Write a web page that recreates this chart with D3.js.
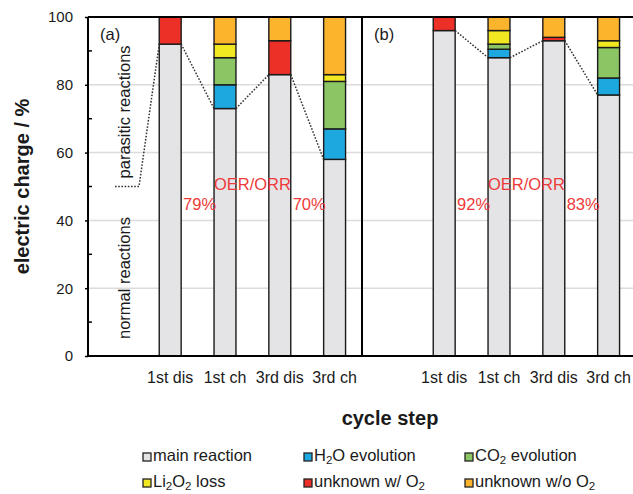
<!DOCTYPE html>
<html><head><meta charset="utf-8">
<script src="https://cdn.jsdelivr.net/npm/d3@7"></script>
<style>
html,body{margin:0;padding:0;background:#fff;}
svg{display:block;font-family:"Liberation Sans",Arial,sans-serif;}
</style></head>
<body>
<svg id="chart" width="633" height="494"></svg>
<script>
// ---------- data ----------
const steps = ["1st dis", "1st ch", "3rd dis", "3rd ch"];
const categories = ["", ...steps];
const seriesKeys = ["main", "h2o", "co2", "li2o2", "unkO2", "unkNoO2"];
const seriesLabels = ["main reaction", "H_2O evolution", "CO_2 evolution", "Li_2O_2 loss", "unknown w/ O_2", "unknown w/o O_2"];
const seriesColors = ["#e4e4e7", "#1ea8e0", "#8cc563", "#f1e822", "#ec2f27", "#fbb42b"];

// panel (a)
const mainA    = [92, 73, 83, 58];
const h2oA     = [0, 7, 0, 9];
const co2A     = [0, 8, 0, 14];
const li2o2A   = [0, 4, 0, 2];
const unkO2A   = [8, 0, 10, 0];
const unkNoO2A = [0, 8, 7, 17];
// panel (b)
const mainB    = [96, 88, 93, 77];
const h2oB     = [0, 2.5, 0, 5];
const co2B     = [0, 1.5, 0, 9];
const li2o2B   = [0, 4, 0, 2];
const unkO2B   = [4, 0, 1, 0];
const unkNoO2B = [0, 4, 6, 7];

const effA = ["79%", "70%"];
const effB = ["92%", "83%"];
const panelLabels = ["(a)", "(b)"];
const yTicks = [0, 20, 40, 60, 80, 100];
const yMinor = [10, 30, 50, 70, 90];
const dividerValue = 50;

// ---------- layout ----------
const svg = d3.select("#chart");
const yTop = 17, yBottom = 356;
const panelW = 274;
const panelX = [88, 362];
const y = d3.scaleLinear().domain([0, 100]).range([yBottom, yTop]);
const x = d3.scaleBand().domain(categories).range([0, panelW]).paddingInner(0.6).paddingOuter(0.3);

function rows(main, h2o, co2, li, uo, un) {
  return steps.map((s, i) => ({step: s, main: main[i], h2o: h2o[i], co2: co2[i], li2o2: li[i], unkO2: uo[i], unkNoO2: un[i]}));
}
const panels = [
  {rows: rows(mainA, h2oA, co2A, li2o2A, unkO2A, unkNoO2A), eff: effA},
  {rows: rows(mainB, h2oB, co2B, li2o2B, unkO2B, unkNoO2B), eff: effB}
];
const stack = d3.stack().keys(seriesKeys);
const color = d3.scaleOrdinal().domain(seriesKeys).range(seriesColors);
const red = "#ee3a3a";

panels.forEach((p, pi) => {
  const g = svg.append("g").attr("transform", `translate(${panelX[pi]},0)`);
  // gridlines
  g.selectAll("line.grid").data(yTicks.filter(t => t > 0 && t < 100)).enter().append("line")
    .attr("x1", 0).attr("x2", panelW).attr("y1", d => y(d)).attr("y2", d => y(d))
    .attr("stroke", "#dcdcdc").attr("stroke-width", 1.5);
  // bars
  const layers = stack(p.rows);
  g.selectAll("g.layer").data(layers).enter().append("g")
    .attr("fill", d => color(d.key))
    .selectAll("rect").data(d => d.filter(s => s[1] - s[0] > 0)).enter().append("rect")
    .attr("x", d => x(d.data.step)).attr("width", x.bandwidth())
    .attr("y", d => y(d[1])).attr("height", d => y(d[0]) - y(d[1]))
    .attr("stroke", "#1a1a1a").attr("stroke-width", 1.4);
  // dotted connectors
  const conn = [];
  for (let i = 0; i < p.rows.length - 1; i++) {
    conn.push([[x(p.rows[i].step) + x.bandwidth(), y(p.rows[i].main)], [x(p.rows[i + 1].step), y(p.rows[i + 1].main)]]);
  }
  if (pi === 0) {
    conn.push([[27, y(dividerValue)], [51, y(dividerValue)], [x(p.rows[0].step), y(p.rows[0].main)]]);
  }
  g.selectAll("path.conn").data(conn).enter().append("path")
    .attr("d", d3.line()).attr("fill", "none")
    .attr("stroke", "#333").attr("stroke-width", 1.5).attr("stroke-dasharray", "1.6,1.6");
  // efficiency labels
  const mid = (a, b) => (x(a) + x(b) + x.bandwidth()) / 2;
  g.append("text").attr("x", mid(steps[1], steps[2])).attr("y", y(49)).attr("text-anchor", "middle")
    .attr("fill", red).attr("font-size", 16.5).text("OER/ORR");
  g.append("text").attr("x", mid(steps[0], steps[1]) + 2).attr("y", y(43)).attr("text-anchor", "middle")
    .attr("fill", red).attr("font-size", 16.5).text(p.eff[0]);
  g.append("text").attr("x", mid(steps[2], steps[3]) + 2).attr("y", y(43)).attr("text-anchor", "middle")
    .attr("fill", red).attr("font-size", 16.5).text(p.eff[1]);
  // x tick labels
  g.selectAll("text.xt").data(steps).enter().append("text")
    .attr("x", d => x(d) + x.bandwidth() / 2).attr("y", 383).attr("text-anchor", "middle")
    .attr("font-size", 16).attr("fill", "#1a1a1a").text(d => d);
  // panel label
  g.append("text").attr("x", 12).attr("y", 40).attr("font-size", 16.5).attr("fill", "#1a1a1a").text(panelLabels[pi]);
  // borders
  g.append("line").attr("x1", 0).attr("x2", 0).attr("y1", yTop).attr("y2", yBottom).attr("stroke", "#000").attr("stroke-width", 2);
  g.append("line").attr("x1", panelW).attr("x2", panelW).attr("y1", yTop).attr("y2", yBottom).attr("stroke", "#000").attr("stroke-width", 2);
});

// frame lines
svg.append("line").attr("x1", panelX[0]).attr("x2", panelX[1] + panelW).attr("y1", yTop).attr("y2", yTop).attr("stroke", "#000").attr("stroke-width", 2);
svg.append("line").attr("x1", panelX[0]).attr("x2", panelX[1] + panelW).attr("y1", yBottom).attr("y2", yBottom).attr("stroke", "#000").attr("stroke-width", 2);

// y axis
const yAxis = d3.axisLeft(y).tickValues(yTicks).tickSize(3).tickPadding(12);
const ag = svg.append("g").attr("transform", `translate(${panelX[0]},0)`).call(yAxis);
ag.select(".domain").remove();
ag.selectAll("text").attr("font-size", 15).attr("fill", "#1a1a1a").attr("font-family", "Liberation Sans, Arial, sans-serif");
ag.selectAll("line").attr("stroke", "#000").attr("stroke-width", 1.5);
svg.append("g").selectAll("line").data(yMinor).enter().append("line")
  .attr("x1", panelX[0]).attr("x2", panelX[0] + 4).attr("y1", d => y(d)).attr("y2", d => y(d))
  .attr("stroke", "#000").attr("stroke-width", 1.5);

// rotated annotations
svg.append("text").attr("transform", `translate(130,${y(72)}) rotate(-90)`).attr("text-anchor", "middle")
  .attr("font-size", 16.5).attr("fill", "#1a1a1a").text("parasitic reactions");
svg.append("text").attr("transform", `translate(130,${y(23)}) rotate(-90)`).attr("text-anchor", "middle")
  .attr("font-size", 16.5).attr("fill", "#1a1a1a").text("normal reactions");

// axis titles
svg.append("text").attr("transform", `translate(29,${(yTop + yBottom) / 2}) rotate(-90)`).attr("text-anchor", "middle")
  .attr("font-size", 20).attr("font-weight", "bold").attr("fill", "#1a1a1a").text("electric charge / %");
svg.append("text").attr("x", 390).attr("y", 425).attr("text-anchor", "middle")
  .attr("font-size", 20).attr("font-weight", "bold").attr("fill", "#1a1a1a").text("cycle step");

// legend
const legX = [143, 304, 465], legY = [457, 483];
seriesKeys.forEach((k, i) => {
  const lx = legX[i % 3], ly = legY[Math.floor(i / 3)];
  svg.append("rect").attr("x", lx).attr("y", ly - 4).attr("width", 8).attr("height", 8)
    .attr("fill", color(k)).attr("stroke", "#222").attr("stroke-width", 1.3);
  const t = svg.append("text").attr("x", lx + 10).attr("y", ly + 4).attr("font-size", 16.5).attr("fill", "#1a1a1a");
  seriesLabels[i].split(/_(\d)/).forEach((part, j) => {
    if (j % 2 === 1) {
      t.append("tspan").attr("dy", 3).attr("font-size", 11.5).text(part);
    } else if (part.length) {
      t.append("tspan").attr("dy", j === 0 ? 0 : -3).text(part);
    }
  });
});
</script>
</body></html>
